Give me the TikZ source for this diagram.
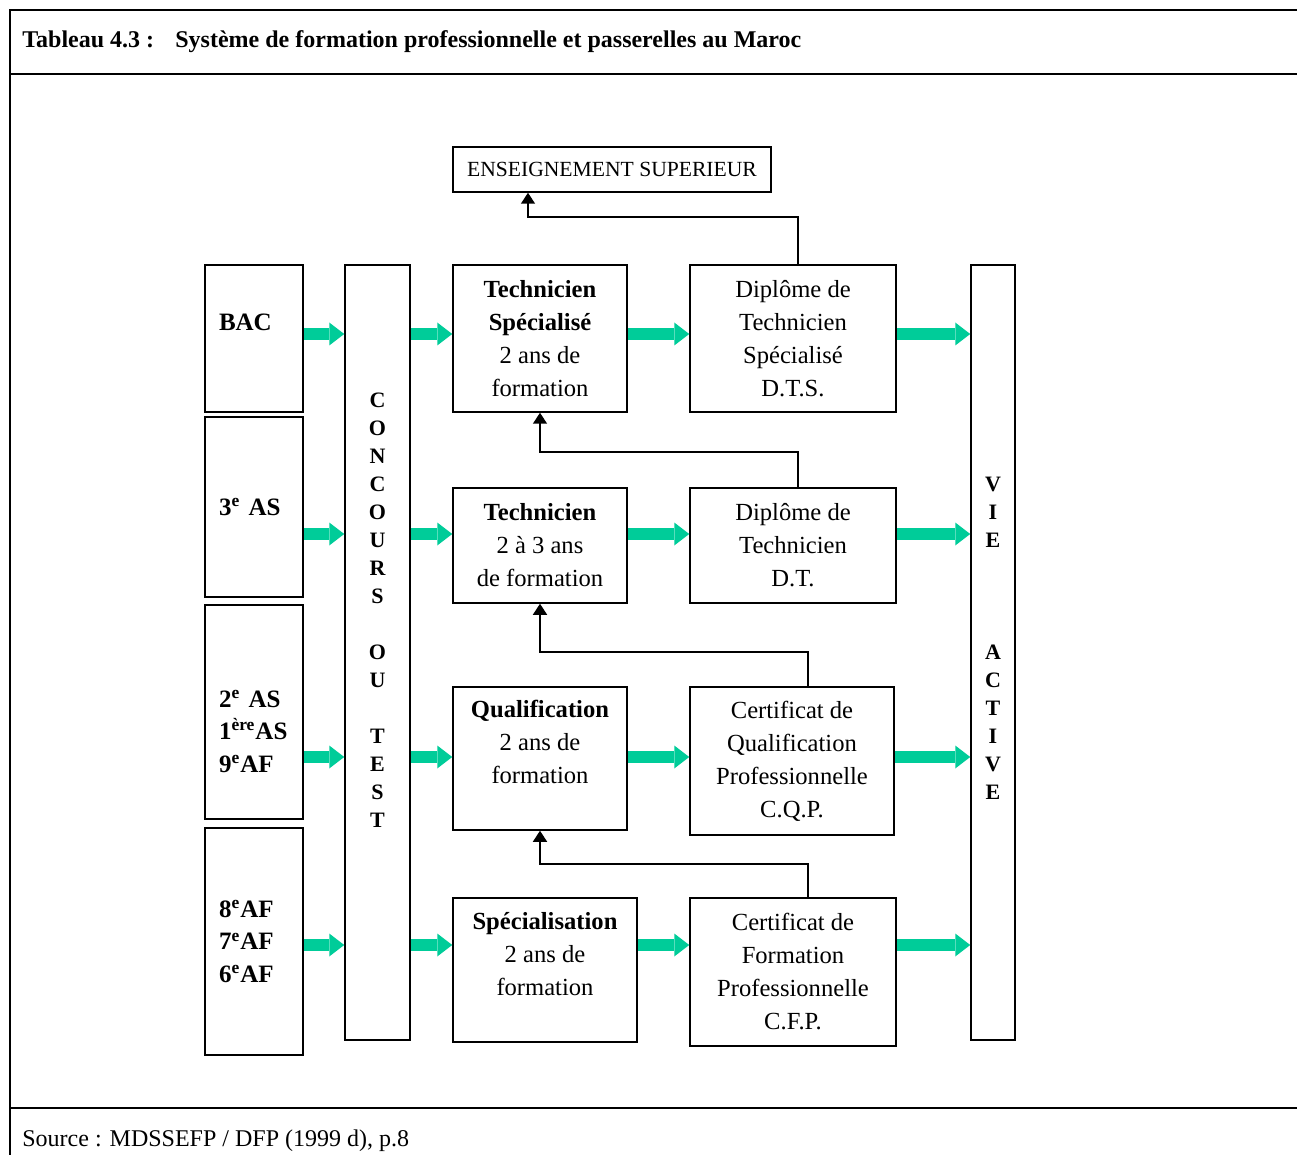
\documentclass[tikz,border=0pt]{standalone}
\usepackage{fontspec}
\setmainfont{Liberation Serif}
\usetikzlibrary{arrows.meta}
\definecolor{flowgreen}{HTML}{00CC99}
\tikzset{
  box/.style={draw, line width=0.75pt, inner sep=0pt, align=center, font=\fontsize{12.3}{16.5}\selectfont},
  grade/.style={draw, line width=0.75pt, inner ysep=0pt, inner xsep=7pt, text width=35pt, align=left, minimum width=49pt, font=\fontsize{12.5}{16.25}\selectfont\bfseries},
  vbox/.style={draw, line width=0.75pt, inner sep=0pt, align=center, minimum height=387.5pt, font=\fontsize{11}{14}\selectfont\bfseries},
  flow/.style={flowgreen, line width=6.3pt, -{Triangle[length=7.5pt, width=11.5pt, line width=0pt]}},
  passerelle/.style={line width=0.75pt, -{Triangle[length=5.5pt, width=7pt]}},
  framerule/.style={line width=1pt}
}
\begin{document}
\begin{tikzpicture}[x=0.5pt, y=-0.5pt]
\useasboundingbox (0,0) rectangle (1297,1155);
\draw[framerule] (1297,10) -- (10,10) -- (10,1155);
\draw[framerule] (10,74) -- (1297,74);
\draw[framerule] (10,1108) -- (1297,1108);
\node[anchor=base west, inner sep=0pt, font=\fontsize{12}{14}\selectfont\bfseries] (title) at (22,48)
  {Tableau 4.3 :\hspace{0.55em} Système de formation professionnelle et passerelles au Maroc};
\node[anchor=base west, inner sep=0pt, font=\fontsize{12}{14}\selectfont] (source) at (22,1146)
  {Source : MDSSEFP / DFP (1999 d), p.8};

\node[box, minimum width=159pt, minimum height=22.5pt, font=\fontsize{10.8}{12}\selectfont] (sup) at (612,169.5) {ENSEIGNEMENT SUPERIEUR};

\node[grade, minimum height=73.5pt] (bac) at (254,338.5) {BAC\\\mbox{}};
\node[grade, minimum height=90pt] (as3) at (254,507) {3\textsuperscript{e} AS};
\node[grade, minimum height=107pt] (as2) at (254,712) {\strut\\2\textsuperscript{e} AS\\1\textsuperscript{ère}AS\\9\textsuperscript{e}AF};
\node[grade, minimum height=113.5pt] (af8) at (254,941.5) {8\textsuperscript{e}AF\\7\textsuperscript{e}AF\\6\textsuperscript{e}AF};

\node[vbox, minimum width=32.5pt] (concours) at (377.5,652.5)
  {C\\O\\N\\C\\O\\U\\R\\S\\\mbox{}\\O\\U\\\mbox{}\\T\\E\\S\\T\\\mbox{}\\\mbox{}\\\mbox{}};

\node[box, minimum width=87pt, minimum height=73.5pt] (ts) at (540,338.5) {\textbf{Technicien}\\\textbf{Spécialisé}\\2 ans de\\formation};
\node[box, minimum width=87pt, minimum height=57.5pt] (tech) at (540,545.5) {\textbf{Technicien}\\2 à 3 ans\\de formation};
\node[box, minimum width=87pt, minimum height=71.5pt] (qual) at (540,758.5) {\textbf{Qualification}\\2 ans de\\formation\\\mbox{}};
\node[box, minimum width=92pt, minimum height=72pt] (spec) at (545,970) {\textbf{Spécialisation}\\2 ans de\\formation\\\mbox{}};

\node[box, minimum width=103pt, minimum height=73.5pt] (dts) at (793,338.5) {Diplôme de\\Technicien\\Spécialisé\\D.T.S.};
\node[box, minimum width=103pt, minimum height=57.5pt] (ddt) at (793,545.5) {Diplôme de\\Technicien\\D.T.};
\node[box, minimum width=102pt, minimum height=74pt] (cqp) at (792,761) {Certificat de\\Qualification\\Professionnelle\\C.Q.P.};
\node[box, minimum width=103pt, minimum height=74pt] (cfp) at (793,972) {Certificat de\\Formation\\Professionnelle\\C.F.P.};

\node[vbox, minimum width=22pt] (vie) at (993,652.5)
  {V\\I\\E\\\mbox{}\\\mbox{}\\\mbox{}\\A\\C\\T\\I\\V\\E\\\mbox{}};

\coordinate (r1) at (0,334);
\coordinate (r2) at (0,534);
\coordinate (r3) at (0,757);
\coordinate (r4) at (0,945);
\foreach \a/\b/\r in {bac/concours/r1, concours/ts/r1, ts/dts/r1, dts/vie/r1,
                      as3/concours/r2, concours/tech/r2, tech/ddt/r2, ddt/vie/r2,
                      as2/concours/r3, concours/qual/r3, qual/cqp/r3, cqp/vie/r3,
                      af8/concours/r4, concours/spec/r4, spec/cfp/r4, cfp/vie/r4}
  \draw[flow] (\a.east |- \r) -- (\b.west |- \r);

\draw[passerelle] (dts.north -| 798,0) |- (528,217) -- (sup.south -| 528,0);
\draw[passerelle] (ddt.north -| 798,0) |- (540,452) -- (ts.south -| 540,0);
\draw[passerelle] (cqp.north -| 808,0) |- (540,652) -- (tech.south -| 540,0);
\draw[passerelle] (cfp.north -| 808,0) |- (540,864) -- (qual.south -| 540,0);
\end{tikzpicture}
\end{document}
